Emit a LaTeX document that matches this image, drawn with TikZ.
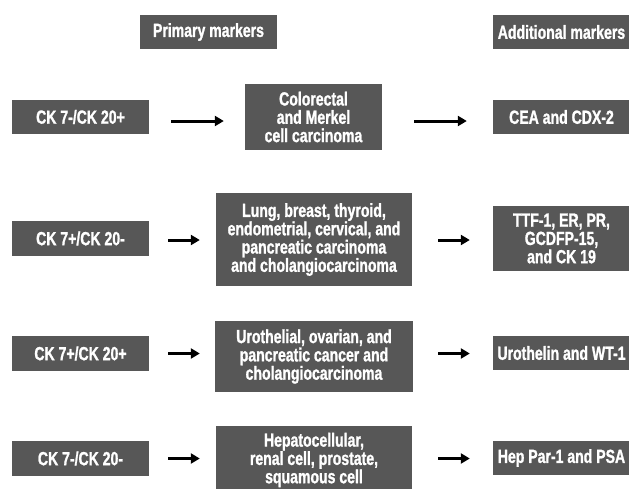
\documentclass[tikz,border=0pt]{standalone}
\usepackage{fontspec}
\setmainfont[FakeStretch=0.74, BoldFeatures={FakeBold=1.2}]{Liberation Sans}
\usetikzlibrary{arrows.meta}
\definecolor{boxgray}{RGB}{87,87,87}
\tikzset{
  box/.style={fill=boxgray, text=white, draw=none, inner sep=0pt, align=center,
    font=\fontsize{19}{18.3}\selectfont\bfseries},
  arr/.style={line width=3pt, -{Triangle[length=9pt,width=10pt]}},
}
\begin{document}
\begin{tikzpicture}[x=1pt,y=-1pt]
\useasboundingbox (0,0) rectangle (629,488);
\fill[white] (0,0) rectangle (629,488);
\clip (0,0) rectangle (629,488);
% headers
\node[box, minimum width=137pt, minimum height=34pt] (prim) at (208.5,32) {Primary markers};
\node[box, minimum width=137pt, minimum height=34pt] (addl) at (561.5,32) {Additional markers};
% row 1
\node[box, minimum width=137pt, minimum height=34pt] (r1a) at (80.5,117) {CK 7-/CK 20+};
\node[box, minimum width=137pt, minimum height=66pt] (r1b) at (313.5,117) {Colorectal\\and Merkel\\cell carcinoma};
\node[box, minimum width=137pt, minimum height=34pt] (r1c) at (561.5,117) {CEA and CDX-2};
% row 2
\node[box, minimum width=137pt, minimum height=35pt] (r2a) at (80.5,238.5) {CK 7+/CK 20-};
\node[box, minimum width=196pt, minimum height=93pt] (r2b) at (314,239.5) {Lung, breast, thyroid,\\endometrial, cervical, and\\pancreatic carcinoma\\and cholangiocarcinoma};
\node[box, minimum width=137pt, minimum height=65pt] (r2c) at (561.5,238.5) {TTF-1, ER, PR,\\GCDFP-15,\\and CK 19};
% row 3
\node[box, minimum width=137pt, minimum height=35pt] (r3a) at (80.5,353.5) {CK 7+/CK 20+};
\node[box, minimum width=198pt, minimum height=71pt] (r3b) at (314,356.5) {Urothelial, ovarian, and\\pancreatic cancer and\\cholangiocarcinoma};
\node[box, minimum width=137pt, minimum height=34pt] (r3c) at (561.5,353) {Urothelin and WT-1};
% row 4
\node[box, minimum width=137pt, minimum height=35pt] (r4a) at (80.5,458.5) {CK 7-/CK 20-};
\node[box, minimum width=196pt, minimum height=68pt] (r4b) at (314,460) {Hepatocellular,\\renal cell, prostate,\\squamous cell};
\node[box, minimum width=137pt, minimum height=34pt] (r4c) at (561.5,458) {Hep Par-1 and PSA};
% arrows
\draw[arr, shorten <=22pt, shorten >=21pt] ([yshift=-4pt]r1a.east) -- ([yshift=-4pt]r1a.east -| r1b.west);
\draw[arr, shorten <=32pt, shorten >=26pt] ([yshift=-4pt]r1b.east) -- ([yshift=-4pt]r1b.east -| r1c.west);
\draw[arr, shorten <=19pt, shorten >=16pt] ([yshift=-1.5pt]r2a.east) -- ([yshift=-1.5pt]r2a.east -| r2b.west);
\draw[arr, shorten <=26pt, shorten >=23pt] ([yshift=-1.5pt]r2a.east -| r2b.east) -- ([yshift=-1.5pt]r2a.east -| r2c.west);
\draw[arr, shorten <=19pt, shorten >=15pt] (r3a.east) -- (r3a.east -| r3b.west);
\draw[arr, shorten <=25pt, shorten >=23pt] (r3a.east -| r3b.east) -- (r3a.east -| r3c.west);
\draw[arr, shorten <=19pt, shorten >=16pt] (r4a.east) -- (r4a.east -| r4b.west);
\draw[arr, shorten <=26pt, shorten >=23pt] (r4a.east -| r4b.east) -- (r4a.east -| r4c.west);
\end{tikzpicture}
\end{document}
